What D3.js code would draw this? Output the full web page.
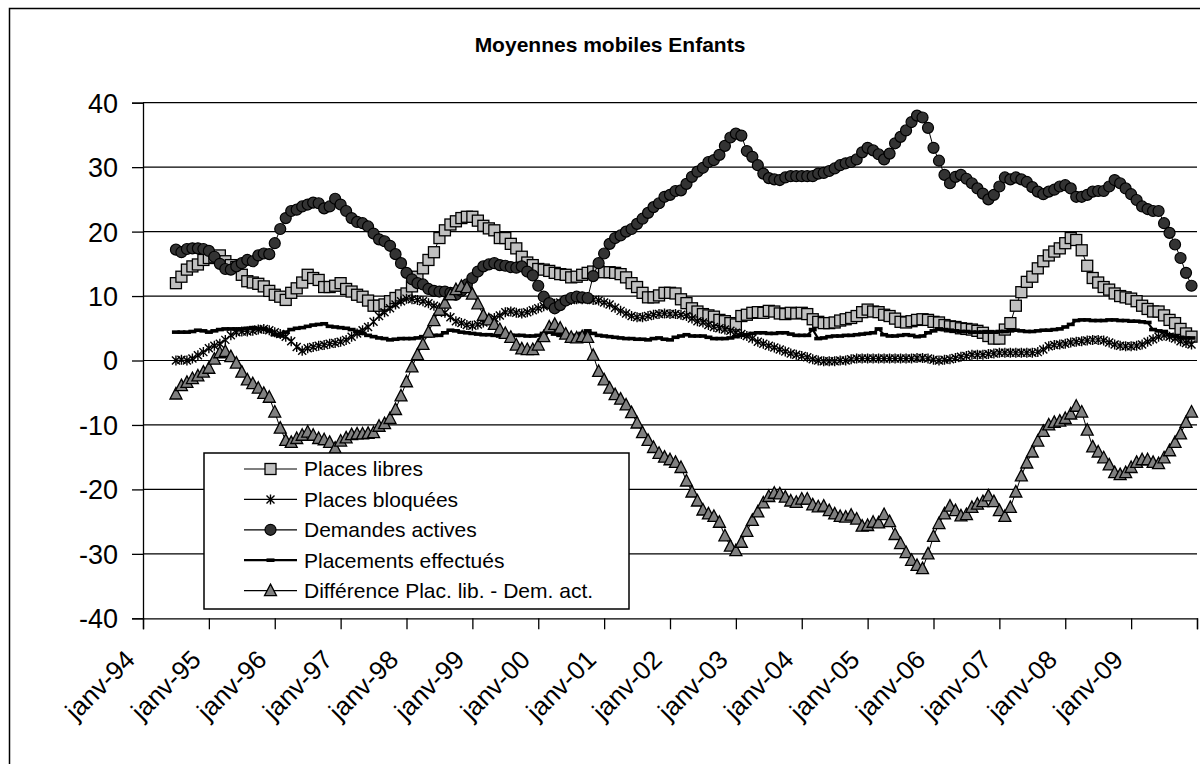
<!DOCTYPE html>
<html>
<head>
<meta charset="utf-8">
<script src="https://cdn.jsdelivr.net/npm/d3@7"></script>
<style>
    body { margin: 0; background: #fff; }
    svg { display: block; font-family: "Liberation Sans", Arial, sans-serif; }
</style>
</head>
<body>
<div id="chart"></div>
<script>
// monthly moving averages, first point = juillet 1994 (month index 6 from janv-94)
const firstMonth = 6;
const yearLabels = ['janv-94', 'janv-95', 'janv-96', 'janv-97', 'janv-98', 'janv-99', 'janv-00', 'janv-01',
    'janv-02', 'janv-03', 'janv-04', 'janv-05', 'janv-06', 'janv-07', 'janv-08', 'janv-09'];
const yTicks = [-40, -30, -20, -10, 0, 10, 20, 30, 40];

const placesLibres = [
    12.0, 13.0, 14.1, 14.6, 14.9, 15.6,
    15.9, 16.1, 16.3, 15.4, 14.8, 14.5, 13.3, 12.3, 12.1, 11.9, 11.5, 10.8,
    10.2, 9.9, 9.4, 10.5, 11.2, 12.1, 13.3, 12.8, 12.5, 11.4, 11.4, 11.6,
    12.0, 11.1, 10.7, 10.2, 9.9, 9.3, 8.5, 8.5, 8.7, 9.2, 9.7, 10.1,
    10.4, 11.5, 13.0, 14.3, 15.6, 16.8, 19.0, 20.2, 21.1, 21.6, 22.1, 22.3,
    22.3, 21.7, 20.9, 20.5, 20.2, 19.0, 19.0, 18.1, 17.4, 16.1, 15.2, 14.8,
    14.2, 14.1, 13.9, 13.6, 13.4, 13.3, 12.9, 13.0, 13.3, 13.6, 13.8, 13.8,
    13.7, 13.7, 13.6, 13.4, 12.9, 12.0, 11.4, 10.5, 9.8, 9.8, 10.1, 10.5,
    10.5, 10.4, 9.5, 8.9, 8.1, 7.6, 7.2, 7.0, 6.8, 6.3, 6.1, 5.8,
    5.6, 6.9, 7.1, 7.4, 7.5, 7.4, 7.7, 7.6, 7.3, 7.2, 7.4, 7.3,
    7.4, 7.2, 6.4, 6.0, 5.8, 5.8, 5.9, 6.2, 6.4, 6.6, 6.9, 7.5,
    7.9, 7.6, 7.5, 7.1, 6.9, 6.5, 6.0, 5.9, 6.1, 6.3, 6.4, 6.3,
    6.0, 5.9, 5.5, 5.3, 5.2, 5.0, 4.9, 4.8, 4.6, 4.3, 3.8, 3.4,
    3.4, 4.8, 5.8, 8.5, 10.6, 12.2, 13.0, 14.3, 15.4, 16.3, 16.9, 17.4,
    18.2, 19.0, 18.7, 17.1, 14.7, 12.8, 12.1, 11.4, 11.0, 10.4, 10.0, 9.8,
    9.6, 9.2, 8.5, 8.0, 7.6, 7.6, 7.0, 6.3, 5.8, 4.9, 4.2, 3.7
];
const placesBloquees = [
    0.0, 0.1, 0.0, 0.3, 0.8, 1.3,
    1.9, 2.3, 2.6, 3.2, 3.9, 4.4, 4.5, 4.5, 4.6, 4.8, 4.9, 4.7,
    4.4, 4.1, 3.7, 3.0, 2.1, 1.5, 1.9, 2.1, 2.3, 2.4, 2.6, 2.7,
    2.9, 3.2, 3.7, 4.2, 4.7, 5.2, 6.0, 6.9, 7.5, 8.1, 8.7, 9.2,
    9.6, 9.5, 9.4, 9.2, 8.9, 8.5, 8.1, 7.4, 6.7, 6.1, 5.8, 5.5,
    5.4, 5.6, 5.9, 6.3, 6.6, 7.0, 7.5, 7.6, 7.4, 7.3, 7.5, 7.8,
    8.1, 8.4, 8.7, 8.8, 9.0, 9.3, 9.4, 9.5, 9.5, 9.5, 9.4, 9.3,
    9.0, 8.7, 8.2, 7.7, 7.3, 6.9, 6.7, 6.7, 6.9, 7.1, 7.2, 7.3,
    7.2, 7.2, 7.1, 6.9, 6.5, 6.1, 5.9, 5.5, 5.2, 5.0, 4.8, 4.6,
    4.3, 4.1, 3.8, 3.4, 2.9, 2.6, 2.3, 2.0, 1.7, 1.4, 1.1, 0.9,
    0.7, 0.5, 0.2, 0.0, -0.1, -0.1, -0.1, 0.0, 0.0, 0.2, 0.3, 0.3,
    0.3, 0.3, 0.3, 0.3, 0.3, 0.3, 0.3, 0.3, 0.3, 0.4, 0.4, 0.3,
    0.1, 0.0, 0.1, 0.2, 0.4, 0.6, 0.7, 0.9, 0.9, 0.9, 1.0, 1.1,
    1.2, 1.2, 1.2, 1.2, 1.2, 1.2, 1.2, 1.3, 1.7, 2.2, 2.4, 2.5,
    2.6, 2.8, 2.9, 3.0, 3.1, 3.2, 3.2, 3.1, 2.8, 2.5, 2.3, 2.2,
    2.2, 2.3, 2.5, 2.9, 3.3, 3.7, 3.9, 3.7, 3.4, 3.0, 2.7, 2.5
];
const demandesActives = [
    17.2, 16.8, 17.3, 17.4, 17.4, 17.3,
    17.0, 16.1, 15.0, 14.2, 14.1, 14.6, 15.1, 15.6, 15.4, 16.3, 16.6, 16.5,
    18.2, 20.4, 22.1, 23.2, 23.4, 23.9, 24.2, 24.5, 24.4, 23.6, 23.9, 25.1,
    24.2, 23.2, 22.1, 21.5, 21.3, 20.8, 19.7, 18.8, 18.5, 17.8, 16.5, 15.1,
    13.6, 12.6, 12.0, 11.8, 11.1, 10.8, 10.7, 10.7, 10.5, 10.2, 10.8, 11.8,
    12.8, 13.8, 14.6, 14.9, 15.1, 14.8, 14.7, 14.5, 14.4, 14.6, 13.8, 13.2,
    11.6, 9.9, 8.9, 8.1, 8.6, 9.3, 9.7, 9.9, 9.8, 9.7, 13.1, 15.1,
    16.6, 18.1, 19.0, 19.4, 20.0, 20.4, 21.2, 22.0, 22.9, 23.8, 24.4, 25.4,
    25.7, 26.3, 26.4, 27.4, 28.5, 29.3, 29.9, 30.8, 31.1, 31.9, 33.3, 34.6,
    35.2, 34.9, 32.5, 31.6, 30.3, 29.0, 28.3, 28.1, 28.0, 28.4, 28.6, 28.6,
    28.6, 28.6, 28.6, 29.0, 29.1, 29.4, 29.8, 30.3, 30.6, 30.8, 31.2, 32.3,
    33.0, 32.6, 32.0, 31.2, 32.1, 33.7, 34.7, 35.7, 37.0, 38.0, 37.7, 36.1,
    33.0, 31.0, 28.8, 27.5, 28.5, 28.8, 28.2, 27.5, 26.7, 25.9, 25.0, 25.7,
    27.0, 28.4, 28.1, 28.4, 28.1, 27.7, 26.9, 26.2, 25.8, 26.2, 26.5, 27.0,
    27.2, 26.7, 25.4, 25.4, 25.7, 26.2, 26.3, 26.3, 27.0, 28.0, 27.5, 26.7,
    25.8, 24.9, 23.9, 23.5, 23.2, 23.2, 21.3, 19.8, 18.0, 15.9, 13.6, 11.6
];
const placementsEffectues = [
    4.4, 4.4, 4.4, 4.5, 4.7, 4.6,
    4.4, 4.6, 4.8, 4.9, 4.9, 4.9, 4.9, 5.0, 5.1, 5.0, 4.9, 4.6,
    4.0, 3.8, 4.4, 4.8, 5.0, 5.1, 5.3, 5.5, 5.6, 5.7, 5.3, 5.2,
    5.1, 5.0, 4.8, 4.5, 4.2, 3.9, 3.7, 3.5, 3.4, 3.2, 3.3, 3.4,
    3.4, 3.4, 3.5, 3.7, 3.8, 3.9, 3.9, 4.3, 4.7, 4.6, 4.4, 4.3,
    4.2, 4.1, 4.0, 4.0, 3.9, 3.8, 3.8, 3.9, 3.9, 3.9, 3.8, 3.8,
    3.9, 4.2, 4.4, 4.1, 3.9, 3.8, 3.8, 3.9, 4.2, 4.6, 4.2, 3.9,
    3.8, 3.7, 3.6, 3.5, 3.4, 3.4, 3.3, 3.3, 3.2, 3.4, 3.5, 3.3,
    3.2, 3.6, 3.8, 4.0, 3.8, 3.8, 3.8, 3.6, 3.4, 3.4, 3.4, 3.5,
    3.7, 3.9, 4.0, 4.2, 4.3, 4.3, 4.2, 4.2, 4.3, 4.3, 4.1, 3.9,
    3.9, 3.9, 4.8, 3.4, 3.5, 3.7, 3.8, 3.8, 3.9, 3.9, 4.0, 4.1,
    4.2, 4.3, 4.9, 4.0, 3.8, 3.8, 3.9, 4.0, 3.9, 3.7, 3.8, 4.3,
    4.6, 4.9, 4.8, 4.7, 4.6, 4.5, 4.5, 4.4, 4.4, 4.4, 4.4, 4.4,
    4.5, 4.5, 4.6, 4.7, 4.6, 4.5, 4.5, 4.6, 4.7, 4.7, 4.8, 4.9,
    5.2, 5.6, 6.2, 6.3, 6.3, 6.2, 6.2, 6.2, 6.3, 6.3, 6.2, 6.2,
    6.1, 6.1, 6.0, 5.9, 4.8, 4.6, 4.5, 4.0, 3.8, 3.6, 3.5, 3.5
];
const difference = [
    -5.2, -3.9, -3.4, -2.8, -2.4, -1.8,
    -1.2, 0.2, 1.2, 1.4, 0.6, -0.4, -1.8, -3.0, -3.6, -4.3, -5.1, -5.7,
    -8.0, -10.5, -12.4, -12.7, -12.1, -11.6, -11.1, -11.6, -12.1, -12.3, -12.7, -13.6,
    -12.5, -12.0, -11.5, -11.4, -11.4, -11.3, -11.2, -10.2, -9.8, -9.0, -7.6, -5.5,
    -3.3, -1.0, 0.9, 2.5, 4.4, 6.2, 7.8, 8.9, 10.2, 11.0, 11.5, 11.3,
    10.3, 8.8, 7.0, 6.3, 5.6, 4.8, 4.2, 3.6, 2.4, 1.8, 1.7, 1.7,
    2.4, 3.7, 5.2, 5.6, 5.0, 4.1, 3.6, 3.5, 3.7, 3.6, 0.8, -1.7,
    -3.0, -4.3, -5.3, -6.0, -6.9, -8.1, -9.7, -11.2, -12.4, -13.5, -14.4, -15.0,
    -15.4, -15.8, -16.6, -18.7, -20.4, -21.8, -23.2, -23.8, -24.2, -25.1, -27.2, -28.8,
    -29.5, -28.2, -26.5, -24.8, -23.5, -22.1, -21.1, -20.6, -20.7, -21.2, -21.8, -22.0,
    -21.5, -21.5, -22.4, -22.7, -22.6, -23.3, -23.8, -24.2, -24.3, -24.0, -24.6, -25.7,
    -25.6, -25.1, -25.2, -23.9, -25.0, -27.0, -28.4, -29.8, -31.0, -31.8, -32.3, -30.0,
    -27.3, -25.3, -23.8, -22.6, -23.3, -24.1, -23.9, -22.8, -22.3, -21.9, -21.0, -21.9,
    -23.3, -24.2, -22.8, -20.4, -17.9, -15.9, -14.2, -12.5, -11.0, -10.0, -9.6, -9.4,
    -9.0, -8.3, -7.1, -8.0, -10.8, -13.4, -14.2, -15.1, -16.2, -17.4, -17.7, -17.4,
    -16.6, -15.8, -15.4, -15.4, -15.8, -16.0, -15.1, -14.0, -12.7, -11.4, -9.6, -8.0
];

(function () {
    'use strict';

    let width = 1200;
    let height = 764;
    let plot = { left: 143, right: 1197, top: 102.7, bottom: 618.3 };

    let series = [
        { name: 'Places libres', values: placesLibres, marker: 'square' },
        { name: 'Places bloquées', values: placesBloquees, marker: 'star' },
        { name: 'Demandes actives', values: demandesActives, marker: 'circle' },
        { name: 'Placements effectués', values: placementsEffectues, marker: 'dash' },
        { name: 'Différence Plac. lib. - Dem. act.', values: difference, marker: 'triangle' }
    ];

    let svg = d3.select('#chart').append('svg')
        .attr('width', width)
        .attr('height', height);

    // outer chart border (right / bottom edges fall outside the picture)
    svg.append('rect')
        .attr('x', 9.5).attr('y', 8.5)
        .attr('width', 1210).attr('height', 780)
        .style('fill', 'white')
        .style('stroke', 'black')
        .style('stroke-width', 1.5);

    svg.append('text')
        .attr('x', 610).attr('y', 52)
        .attr('text-anchor', 'middle')
        .style('font-weight', 'bold')
        .style('font-size', '21px')
        .text('Moyennes mobiles Enfants');

    let xScale = d3.scaleLinear()
        .domain([0, yearLabels.length * 12])
        .range([plot.left, plot.right]);
    let yScale = d3.scaleLinear()
        .domain([-40, 40])
        .range([plot.bottom, plot.top]);

    // gridlines
    svg.append('g')
        .selectAll('line')
        .data(yTicks.filter(function (d) { return d > -40; }))
        .enter().append('line')
        .attr('x1', plot.left).attr('x2', plot.right)
        .attr('y1', function (d) { return yScale(d); })
        .attr('y2', function (d) { return yScale(d); })
        .style('stroke', 'black')
        .style('stroke-width', 1.2);

    let yAxis = d3.axisLeft(yScale)
        .tickValues(yTicks)
        .tickSize(11)
        .tickPadding(14)
        .tickFormat(function (d) { return d.toString(); });
    let yG = svg.append('g')
        .attr('transform', 'translate(' + plot.left + ',0)')
        .call(yAxis);
    yG.selectAll('text')
        .style('font-size', '27px')
        .style('font-family', '"Liberation Sans", Arial, sans-serif')
        .attr('dy', '0.35em');

    let xAxis = d3.axisBottom(xScale)
        .tickValues(d3.range(0, yearLabels.length * 12 + 1, 12))
        .tickSize(11)
        .tickFormat(function (d) { return yearLabels[d / 12] || ''; });
    let xG = svg.append('g')
        .attr('transform', 'translate(0,' + plot.bottom + ')')
        .call(xAxis);
    xG.selectAll('text')
        .style('font-size', '26px')
        .style('font-family', '"Liberation Sans", Arial, sans-serif')
        .style('text-anchor', 'end')
        .attr('x', 0).attr('y', 0).attr('dy', 0)
        .attr('transform', 'translate(-7,43) rotate(-45)');

    [yG, xG].forEach(function (g) {
        g.select('.domain').style('stroke', 'black').style('stroke-width', 1.3);
        g.selectAll('.tick line').style('stroke', 'black').style('stroke-width', 1.3);
        g.selectAll('.tick text').style('fill', 'black');
    });

    function drawMarker(sel, type) {
        switch (type) {
            case 'square':
                sel.append('rect')
                    .attr('x', -5.5).attr('y', -5.5)
                    .attr('width', 11).attr('height', 11)
                    .style('fill', '#c0c0c0')
                    .style('stroke', 'black').style('stroke-width', 1.3);
                break;
            case 'circle':
                sel.append('circle')
                    .attr('r', 5.5)
                    .style('fill', '#333333')
                    .style('stroke', 'black').style('stroke-width', 1.2);
                break;
            case 'triangle':
                sel.append('path')
                    .attr('d', 'M0,-6.5L6,5L-6,5Z')
                    .style('fill', '#808080')
                    .style('stroke', 'black').style('stroke-width', 1.3);
                break;
            case 'star':
                sel.append('path')
                    .attr('d', 'M-4,-4L4,4M-4,4L4,-4M0,-5L0,5')
                    .style('fill', 'none')
                    .style('stroke', 'black').style('stroke-width', 1.4);
                break;
            case 'dash':
                sel.append('rect')
                    .attr('x', -4).attr('y', -1.8)
                    .attr('width', 8).attr('height', 3.6)
                    .style('fill', 'black');
                break;
        }
    }

    let line = d3.line()
        .x(function (d, i) { return xScale(firstMonth + i); })
        .y(function (d) { return yScale(d); });

    series.forEach(function (s) {
        let g = svg.append('g').attr('class', 'series');
        g.append('path')
            .datum(s.values)
            .attr('d', line)
            .style('fill', 'none')
            .style('stroke', 'black')
            .style('stroke-width', s.marker === 'dash' ? 2.2 : 1);
        let pts = g.selectAll('g.pt')
            .data(s.values)
            .enter().append('g')
            .attr('class', 'pt')
            .attr('transform', function (d, i) {
                return 'translate(' + xScale(firstMonth + i) + ',' + yScale(d) + ')';
            });
        drawMarker(pts, s.marker);
    });

    // legend
    let legend = svg.append('g').attr('transform', 'translate(204,453)');
    legend.append('rect')
        .attr('width', 425).attr('height', 156)
        .style('fill', 'white')
        .style('stroke', 'black')
        .style('stroke-width', 1.5);
    let rows = legend.selectAll('g.row')
        .data(series)
        .enter().append('g')
        .attr('class', 'row')
        .attr('transform', function (d, i) { return 'translate(0,' + (16 + i * 30.4) + ')'; });
    rows.append('line')
        .attr('x1', 40).attr('x2', 93)
        .style('stroke', 'black')
        .style('stroke-width', function (d) { return d.marker === 'dash' ? 2.2 : 1.2; });
    rows.each(function (d) {
        drawMarker(d3.select(this).append('g').attr('transform', 'translate(66.5,0)'), d.marker);
    });
    rows.append('text')
        .attr('x', 100)
        .attr('dy', '0.35em')
        .style('font-size', '21px')
        .text(function (d) { return d.name; });
})();
</script>
</body>
</html>
